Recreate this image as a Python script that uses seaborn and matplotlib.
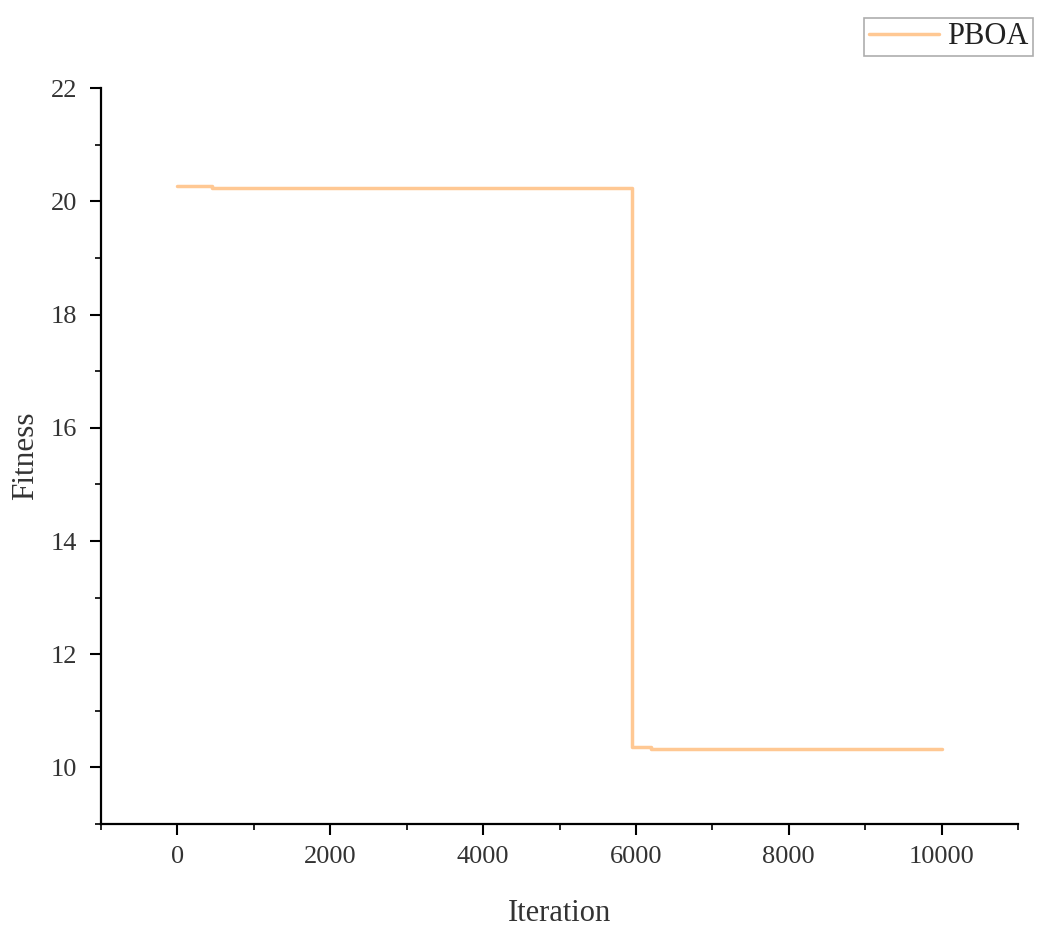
import matplotlib
matplotlib.use("Agg")
import matplotlib.pyplot as plt
import seaborn as sns
import pandas as pd
from matplotlib.ticker import MultipleLocator

# convergence curve
iteration = [0, 450, 5950, 6200, 10000]
fitness = [20.28, 20.24, 10.36, 10.33, 10.33]

df = pd.DataFrame({"Iteration": iteration, "Fitness": fitness})

sns.set_style("ticks")
plt.rcParams["font.family"] = ["Liberation Serif", "DejaVu Serif"]

fig = plt.figure(figsize=(10.42, 9.39), dpi=100)
ax = fig.add_axes([0.097, 0.1225, 0.88, 0.7835])

sns.lineplot(data=df, x="Iteration", y="Fitness", ax=ax, color="#FFC893",
             linewidth=2.5, drawstyle="steps-post", label="PBOA")

ax.set_xlim(-1000, 11000)
ax.set_ylim(9, 22)
ax.xaxis.set_major_locator(MultipleLocator(2000))
ax.xaxis.set_minor_locator(MultipleLocator(1000))
ax.yaxis.set_major_locator(MultipleLocator(2))
ax.yaxis.set_minor_locator(MultipleLocator(1))
ax.set_xticks(range(0, 10001, 2000))

for s in ["top", "right"]:
    ax.spines[s].set_visible(False)
for s in ["left", "bottom"]:
    ax.spines[s].set_linewidth(1.6)
    ax.spines[s].set_color("black")

ax.tick_params(which="major", direction="out", length=8, width=1.5,
               labelsize=19, colors="black", labelcolor="#333333", pad=8)
ax.tick_params(axis="y", which="major", pad=9)
ax.tick_params(which="minor", direction="out", length=4, width=1.2, colors="black")

ax.set_xlabel("Iteration", fontsize=22, color="#333333", labelpad=22)
ax.set_ylabel("Fitness", fontsize=22.5, color="#333333", labelpad=8)

ax.get_legend().remove()
leg = fig.legend(loc="upper right", bbox_to_anchor=(0.991, 0.981), fontsize=22,
                 frameon=True, fancybox=False, handlelength=2.3, borderpad=0.15,
                 handletextpad=0.25, borderaxespad=0)
leg.get_frame().set_edgecolor("#999999")
leg.get_frame().set_linewidth(1.2)
for t in leg.get_texts():
    t.set_color("#222222")

fig.savefig("out.png", dpi=100)
